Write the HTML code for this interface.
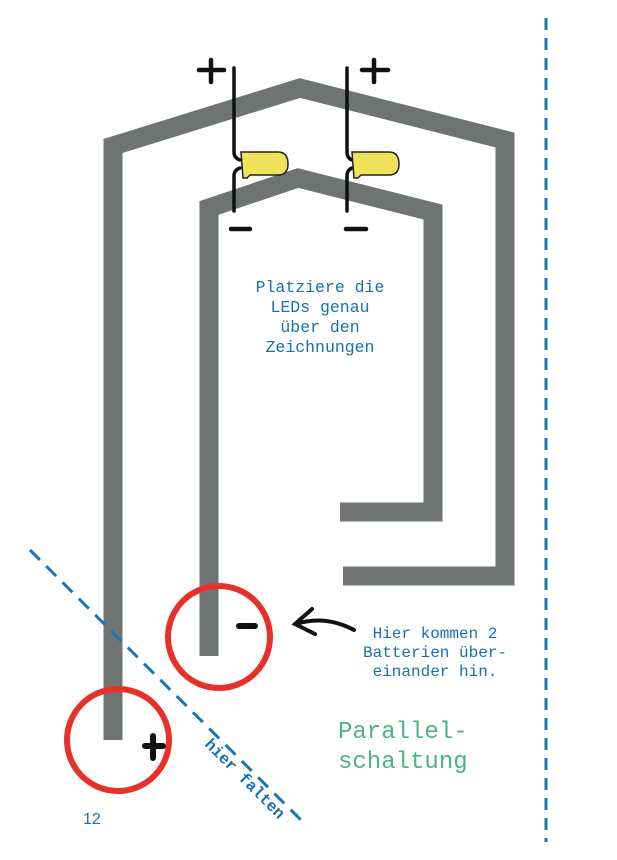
<!DOCTYPE html>
<html><head><meta charset="utf-8"><style>
html,body{margin:0;padding:0;background:#fff;width:617px;height:860px;overflow:hidden}
svg{display:block}
text{font-family:"Liberation Mono",monospace}
</style></head><body>
<svg width="617" height="860" viewBox="0 0 617 860" xmlns="http://www.w3.org/2000/svg">
<rect width="617" height="860" fill="#fff"/>
<line x1="546" y1="18" x2="546" y2="842" stroke="#1a74b8" stroke-width="3" stroke-dasharray="12,8"/>
<g fill="none" stroke="#6f7372" stroke-width="19" stroke-linejoin="miter">
<polyline points="113,740 113,146 300,88 505,140 505,576 343,576"/>
<polyline points="209,656 209,208 298,178 433,212 433,512 340,512"/>
</g>
<line x1="30" y1="550" x2="307" y2="826" stroke="#1a74b8" stroke-width="3" stroke-dasharray="14,9"/>
<circle cx="219" cy="637" r="51" fill="none" stroke="#e8302a" stroke-width="6"/>
<circle cx="118" cy="740" r="51" fill="none" stroke="#e8302a" stroke-width="6"/>
<g stroke="#111" stroke-width="3.5" fill="none" stroke-linecap="round">
<path d="M234,68 V152 Q234,158 240,160 M240,168 Q234,170 234,176 V211"/>
<path d="M347,68 V152 Q347,158 352,160 M352,168 Q347,170 347,176 V211"/>
<path d="M199,70 H224 M211,60 V82" stroke-width="4.5"/>
<path d="M362,70 H388 M374,60 V82" stroke-width="4.5"/>
<path d="M231,229 H250 M346,229 H366" stroke-width="4.5"/>
<path d="M239,626 H255" stroke-width="6"/>
<path d="M145,746 H163 M153,736 V758" stroke-width="6"/>
<path d="M354,630 C335,620 315,618 296,624 M312,609 L295,624 L315,634" stroke-width="4"/>
</g>
<path d="M241,152 H278 Q288,152 288,164 Q288,175 278,175 H250 L247,178 H243 Z" fill="#f0e35a" stroke="#222" stroke-width="1.5"/>
<path d="M352,152 H389 Q399,152 399,164 Q399,175 389,175 H361 L358,178 H354 Z" fill="#f0e35a" stroke="#222" stroke-width="1.5"/>
<g fill="#1a6fb0" font-size="16.5" text-anchor="middle">
<text x="320" y="292">Platziere die</text>
<text x="320" y="312">LEDs genau</text>
<text x="320" y="332">über den</text>
<text x="320" y="352">Zeichnungen</text>
</g>
<g fill="#1a6fb0" font-size="16" text-anchor="middle">
<text x="435" y="638">Hier kommen 2</text>
<text x="435" y="657">Batterien über-</text>
<text x="435" y="676">einander hin.</text>
</g>
<g fill="#4cb387" font-size="24">
<text x="338" y="738">Parallel-</text>
<text x="338" y="768">schaltung</text>
</g>
<text x="83" y="824" fill="#1a6fb0" font-size="16" style="font-family:'Liberation Sans',sans-serif">12</text>
<text x="0" y="0" fill="#1a6fb0" font-size="16" font-weight="bold" transform="translate(204,745) rotate(45)">hier falten</text>
</svg>
</body></html>
